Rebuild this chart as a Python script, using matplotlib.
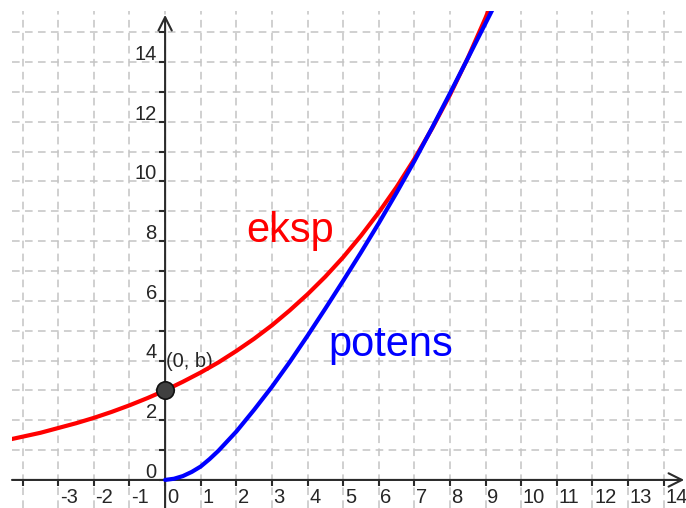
import matplotlib
matplotlib.use('Agg')
from matplotlib import pyplot as plt

# values
eksp_x = [-4.5, -4, -3.5, -3, -2.5, -2, -1.5, -1, -0.5, 0, 0.5, 1, 1.5, 2, 2.5,
          3, 3.5, 4, 4.5, 5, 5.5, 6, 6.5, 7, 7.5, 8, 8.5, 9, 9.5]
eksp_y = [1.32, 1.45, 1.58, 1.74, 1.90, 2.08, 2.28, 2.50, 2.74, 3.00, 3.29, 3.60,
          3.94, 4.32, 4.73, 5.18, 5.68, 6.22, 6.81, 7.46, 8.18, 8.96, 9.81, 10.75,
          11.78, 12.90, 14.13, 15.48, 16.96]

potens_x = [0, 0.25, 0.5, 0.75, 1, 1.25, 1.5, 2, 2.5, 3, 3.5, 4, 4.5, 5, 5.5, 6,
            6.5, 7, 7.5, 8, 8.5, 9, 9.5]
potens_y = [0, 0.04, 0.13, 0.27, 0.45, 0.7, 0.98, 1.62, 2.35, 3.12, 3.95, 4.83,
            5.74, 6.67, 7.62, 8.6, 9.62, 10.68, 11.8, 12.95, 14.12, 15.3, 16.48]

point_x, point_y = 0, 3

x_ticks = list(range(-4, 15))
y_ticks = list(range(0, 16))
x_labels = list(range(-3, 15))
y_labels = [0, 2, 4, 6, 8, 10, 12, 14]

xmin, xmax = -4.30, 14.63
ymin, ymax = -0.94, 15.71

plt.rcParams['font.family'] = ['Liberation Sans', 'DejaVu Sans']

fig = plt.figure(figsize=(6.86, 5.08), dpi=100)
ax = fig.add_axes([12 / 686, 0, 674 / 686, 497 / 508])
ax.set_xlim(xmin, xmax)
ax.set_ylim(ymin, ymax)
for s in ax.spines.values():
    s.set_visible(False)

# grid
ax.set_xticks(x_ticks)
ax.set_yticks(y_ticks)
ax.tick_params(length=0, labelbottom=False, labelleft=False)
ax.grid(True, color='#c4c4c4', lw=1.1, ls=(0, (5, 3.5)))
ax.set_axisbelow(True)

# axes with arrows
axis_col = '#2b2b2b'
ax.annotate('', xy=(14.58, 0), xytext=(xmin, 0),
            arrowprops=dict(arrowstyle='->', lw=1.5, color=axis_col,
                            mutation_scale=24, shrinkA=0, shrinkB=0))
ax.annotate('', xy=(0, 15.58), xytext=(0, ymin),
            arrowprops=dict(arrowstyle='->', lw=1.5, color=axis_col,
                            mutation_scale=24, shrinkA=0, shrinkB=0))

# tick marks
ax.plot(x_ticks, [0] * len(x_ticks), ls='none', marker=3, ms=4,
        mew=1.5, color=axis_col)
ax.plot([0] * len(y_ticks), y_ticks, ls='none', marker=0, ms=4,
        mew=1.5, color=axis_col)

# tick labels (geogebra style, offset from the tick)
lab_col = '#262626'
for v in x_labels:
    ax.annotate(str(v), xy=(v, 0), xytext=(1.2, -16.8), textcoords='offset points',
                ha='left', va='baseline', fontsize=14.5, color=lab_col)
for v in y_labels:
    ax.annotate(str(v), xy=(0, v), xytext=(-6, 1.5), textcoords='offset points',
                ha='right', va='baseline', fontsize=14.5, color=lab_col)

# curves
ax.plot(eksp_x, eksp_y, color='#ff0000', lw=3, solid_capstyle='round',
        solid_joinstyle='round', zorder=4)
ax.plot(potens_x, potens_y, color='#0000ff', lw=3, solid_capstyle='round',
        solid_joinstyle='round', zorder=4)

# point (0, b)
ax.plot(point_x, point_y, 'o', ms=12.5, mfc='#404040', mec='#111111', mew=1.2, zorder=6)
ax.text(0.03, 3.8, '(0, b)', fontsize=14.5, color=lab_col, ha='left', va='baseline')

ax.text(2.28, 7.98, 'eksp', fontsize=30, color='#ff0000', ha='left', va='baseline')
ax.text(4.59, 4.15, 'potens', fontsize=30, color='#0000ff', ha='left', va='baseline')

fig.savefig('out.png', dpi=100)
